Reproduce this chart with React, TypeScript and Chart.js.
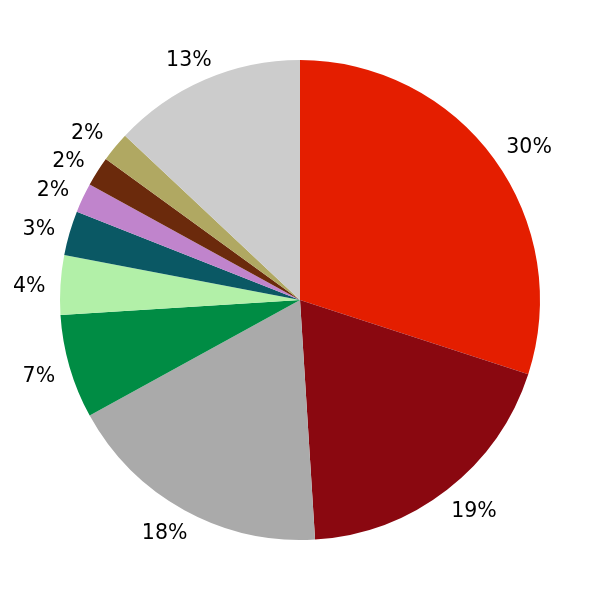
import React, { useEffect, useRef } from "react";
import { Chart, registerables } from "chart.js";

Chart.register(...registerables);

const categories = ["A", "B", "C", "D", "E", "F", "G", "H", "I", "J"];
const values = [30, 19, 18, 7, 4, 3, 2, 2, 2, 13];
const labels = ["30%", "19%", "18%", "7%", "4%", "3%", "2%", "2%", "2%", "13%"];
const colors = [
  "#E41E00",
  "#8A0810",
  "#AAAAAA",
  "#008C44",
  "#B2F0A8",
  "#0A5864",
  "#C084CC",
  "#6B2A0C",
  "#B0A862",
  "#CCCCCC",
];

const labelPlugin = {
  id: "outerLabels",
  afterDatasetsDraw(chart: any) {
    const ctx = chart.ctx;
    const meta = chart.getDatasetMeta(0);
    ctx.save();
    ctx.font = "20.5px 'DejaVu Sans'";
    ctx.fillStyle = "#000000";
    ctx.textAlign = "center";
    ctx.textBaseline = "middle";
    meta.data.forEach((arc: any, i: number) => {
      const { x, y, startAngle, endAngle, outerRadius } = arc.getProps(
        ["x", "y", "startAngle", "endAngle", "outerRadius"],
        true
      );
      const mid = (startAngle + endAngle) / 2;
      const ux = Math.cos(mid);
      const uy = Math.sin(mid);
      const hw = ctx.measureText(labels[i]).width / 2;
      const hh = 7.7;
      const d = outerRadius + 15;
      const m = Math.max(Math.abs(ux), Math.abs(uy));
      const cx = x + d * ux + (hw * ux) / m;
      const cy = y + d * uy + (hh * uy) / m + 2.8;
      ctx.fillText(labels[i], cx, cy);
    });
    ctx.restore();
  },
};

export default function App() {
  const ref = useRef<HTMLCanvasElement | null>(null);
  useEffect(() => {
    if (!ref.current) return;
    const chart = new Chart(ref.current, {
      type: "pie",
      data: {
        labels: categories,
        datasets: [
          {
            data: values,
            backgroundColor: colors,
            borderWidth: 0,
          },
        ],
      },
      options: {
        responsive: false,
        animation: false,
        layout: { padding: 60 },
        plugins: {
          legend: { display: false },
          tooltip: { enabled: false },
        },
      },
      plugins: [labelPlugin],
    });
    return () => chart.destroy();
  }, []);
  return (
    <div style={{ position: "fixed", left: 0, top: 0, width: 600, height: 600, background: "#fff" }}>
      <canvas ref={ref} width={600} height={600} style={{ width: 600, height: 600 }} />
    </div>
  );
}
